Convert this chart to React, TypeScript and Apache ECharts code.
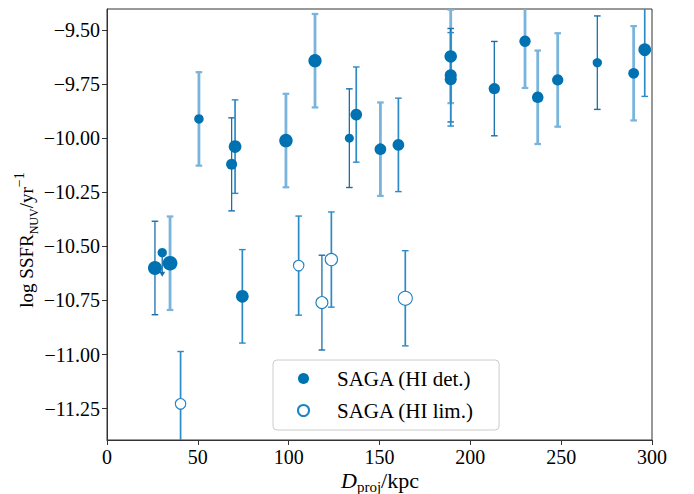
import React, { useEffect, useRef } from "react";
import * as echarts from "echarts";

// ---- Data: SAGA (HI det.) ----
const detX = [26.4, 34.7, 74.5, 50.6, 68.6, 70.5, 98.5, 114.5, 133.4, 137.2, 150.5, 160.4, 189.2, 189.2, 189.2, 213.2, 230.1, 237.1, 248.1, 269.9, 289.9, 296.0];
const detY = [-10.60, -10.578, -10.731, -9.911, -10.121, -10.039, -10.011, -9.642, -10.0, -9.891, -10.051, -10.031, -9.622, -9.709, -9.728, -9.771, -9.552, -9.811, -9.731, -9.651, -9.70, -9.591];
const detErr = [0.216, 0.216, 0.216, 0.216, 0.215, 0.216, 0.216, 0.216, 0.228, 0.22, 0.216, 0.216, 0.216, 0.216, 0.216, 0.218, 0.216, 0.216, 0.216, 0.216, 0.218, 0.216];

// upper limit (HI det. with SSFR upper limit)
const ulX = [30.4];
const ulY = [-10.529];

// ---- Data: SAGA (HI lim.) ----
const limX = [40.5, 105.5, 118.3, 123.5, 164.2];
const limY = [-11.228, -10.589, -10.76, -10.561, -10.74];
const limErr = [0.242, 0.229, 0.219, 0.22, 0.22];

// ---- Tick labels ----
const xTicks = [0, 50, 100, 150, 200, 250, 300];
const yTicks = [-11.25, -11.0, -10.75, -10.5, -10.25, -10.0, -9.75, -9.5];

// ---- Styles (kept apart from data) ----
const detMarkerSize = [14, 14.7, 12.7, 9.5, 11, 12.7, 13.5, 13.3, 9, 11.7, 11.7, 11.7, 12.5, 12, 12, 11.3, 11.3, 11.5, 11.3, 9.3, 10.7, 12.7];
const ulMarkerSize = [9.3];
const limMarkerSize = [10.5, 10.5, 12, 12.3, 14];
const detBarClass = ["t", "k", "m", "k", "t", "m", "k", "k", "t", "m", "k", "m", "k", "t", "m", "t", "k", "k", "k", "t", "k", "m"];
const limBarClass = ["m", "m", "t", "m", "m"];

const BLUE = "#0072b2";
const barStyles: Record<string, { color: string; width: number }> = {
  t: { color: "#1a6fab", width: 1.3 },
  m: { color: "#2d8ac6", width: 1.7 },
  k: { color: "#78b4dc", width: 2.8 },
};

const FONT = "'Liberation Serif', 'DejaVu Serif', serif";

function errorBars(name: string, xs: number[], ys: number[], errs: number[], cls: string[]) {
  return {
    type: "custom",
    name,
    clip: true,
    z: 1,
    silent: true,
    data: xs.map((x, i) => [x, ys[i], errs[i], i]),
    encode: { x: 0, y: 1 },
    renderItem: (params: any, api: any) => {
      const x = api.value(0);
      const y = api.value(1);
      const e = api.value(2);
      const idx = api.value(3);
      const top = api.coord([x, y + e]);
      const bot = api.coord([x, y - e]);
      const st = barStyles[cls[idx]];
      const cap = 3.3;
      const style = { stroke: st.color, lineWidth: st.width };
      const capStyle = { stroke: st.color, lineWidth: Math.max(1.4, st.width * 0.8) };
      return {
        type: "group",
        children: [
          { type: "line", shape: { x1: top[0], y1: top[1], x2: bot[0], y2: bot[1] }, style },
          { type: "line", shape: { x1: top[0] - cap, y1: top[1], x2: top[0] + cap, y2: top[1] }, style: capStyle },
          { type: "line", shape: { x1: bot[0] - cap, y1: bot[1], x2: bot[0] + cap, y2: bot[1] }, style: capStyle },
        ],
      };
    },
  };
}

export default function App() {
  const ref = useRef<HTMLDivElement>(null);
  useEffect(() => {
    if (!ref.current) return;
    const chart = echarts.init(ref.current, undefined, { renderer: "svg" });
    const fmt = (v: number) => (v < 0 ? "\u2212" : "") + Math.abs(v).toFixed(2);
    chart.setOption({
      animation: false,
      backgroundColor: "#fff",
      grid: { left: 107, right: 42, top: 9, bottom: 54, show: true, borderColor: "#333", borderWidth: 1, backgroundColor: "transparent" },
      xAxis: {
        type: "value",
        min: 0,
        max: 300,
        interval: 50,
        axisLine: { show: true, lineStyle: { color: "#333", width: 1 } },
        axisTick: { show: true, inside: false, length: 5, lineStyle: { color: "#333" }, customValues: xTicks },
        axisLabel: { customValues: xTicks, color: "#000", fontFamily: FONT, fontSize: 20, margin: 7 },
        splitLine: { show: false },
      },
      yAxis: {
        type: "value",
        min: -11.395,
        max: -9.403,
        axisLine: { show: true, lineStyle: { color: "#333", width: 1 } },
        axisTick: { show: true, inside: false, length: 5, lineStyle: { color: "#333" }, customValues: yTicks },
        axisLabel: { customValues: yTicks, formatter: fmt, color: "#000", fontFamily: FONT, fontSize: 20, margin: 7 },
        splitLine: { show: false },
      },
      legend: {
        orient: "vertical",
        left: 273,
        top: 360,
        data: ["SAGA (HI det.)", "SAGA (HI lim.)"],
        icon: "circle",
        itemWidth: 57,
        itemHeight: 11,
        itemGap: 11,
        padding: [8, 25, 9, 24],
        borderColor: "#cccccc",
        borderWidth: 1,
        borderRadius: 4,
        backgroundColor: "rgba(255,255,255,0.85)",
        textStyle: { fontFamily: FONT, fontSize: 21, color: "#000", lineHeight: 21 },
      },
      graphic: [
        {
          type: "text",
          x: 380,
          y: 480,
          style: {
            text: "{i|D}{s|proj}{n|/kpc}",
            align: "center",
            verticalAlign: "middle",
            rich: {
              i: { fontFamily: FONT, fontSize: 22, fontStyle: "italic", fill: "#000", lineHeight: 28, verticalAlign: "middle" },
              s: { fontFamily: FONT, fontSize: 15, fill: "#000", lineHeight: 28, verticalAlign: "bottom" },
              n: { fontFamily: FONT, fontSize: 22, fill: "#000", lineHeight: 28, verticalAlign: "middle" },
            },
          },
        },
        {
          type: "text",
          x: 26,
          y: 240,
          rotation: Math.PI / 2,
          style: {
            text: "{n|log SSFR}{s|NUV}{n|/yr}{p|\u22121}",
            align: "center",
            verticalAlign: "middle",
            rich: {
              n: { fontFamily: FONT, fontSize: 19, fill: "#000", lineHeight: 28, verticalAlign: "middle" },
              s: { fontFamily: FONT, fontSize: 12, fill: "#000", lineHeight: 28, verticalAlign: "bottom" },
              p: { fontFamily: FONT, fontSize: 14, fill: "#000", lineHeight: 28, verticalAlign: "top" },
            },
          },
        },
      ],
      series: [
        errorBars("detErr", detX, detY, detErr, detBarClass),
        errorBars("limErr", limX, limY, limErr, limBarClass),
        {
          type: "custom",
          name: "ulArrow",
          clip: true,
          z: 1,
          silent: true,
          data: ulX.map((x, i) => [x, ulY[i]]),
          encode: { x: 0, y: 1 },
          renderItem: (params: any, api: any) => {
            const p = api.coord([api.value(0), api.value(1)]);
            const len = 24;
            return {
              type: "group",
              children: [
                { type: "line", shape: { x1: p[0], y1: p[1], x2: p[0], y2: p[1] + len - 4 }, style: { stroke: "#1a6fab", lineWidth: 1.3 } },
                { type: "polygon", shape: { points: [[p[0] - 3, p[1] + len - 5], [p[0] + 3, p[1] + len - 5], [p[0], p[1] + len]] }, style: { fill: "#1a6fab" } },
              ],
            };
          },
        },
        {
          type: "scatter",
          name: "SAGA (HI det.)",
          z: 3,
          data: detX.map((x, i) => [x, detY[i]]).concat(ulX.map((x, i) => [x, ulY[i]])),
          symbol: "circle",
          symbolSize: (_v: any, p: any) => {
            const i = p.dataIndex;
            return i < detX.length ? detMarkerSize[i] : ulMarkerSize[i - detX.length];
          },
          itemStyle: { color: BLUE, opacity: 1 },
        },
        {
          type: "scatter",
          name: "SAGA (HI lim.)",
          z: 3,
          data: limX.map((x, i) => [x, limY[i]]),
          symbol: "circle",
          symbolSize: (_v: any, p: any) => limMarkerSize[p.dataIndex],
          itemStyle: { color: "#ffffff", borderColor: "#1f82c2", borderWidth: 1.1, opacity: 1 },
        },
      ],
    });
    return () => chart.dispose();
  }, []);
  return <div ref={ref} style={{ width: 694, height: 494, position: "absolute", left: 0, top: 0 }} />;
}
